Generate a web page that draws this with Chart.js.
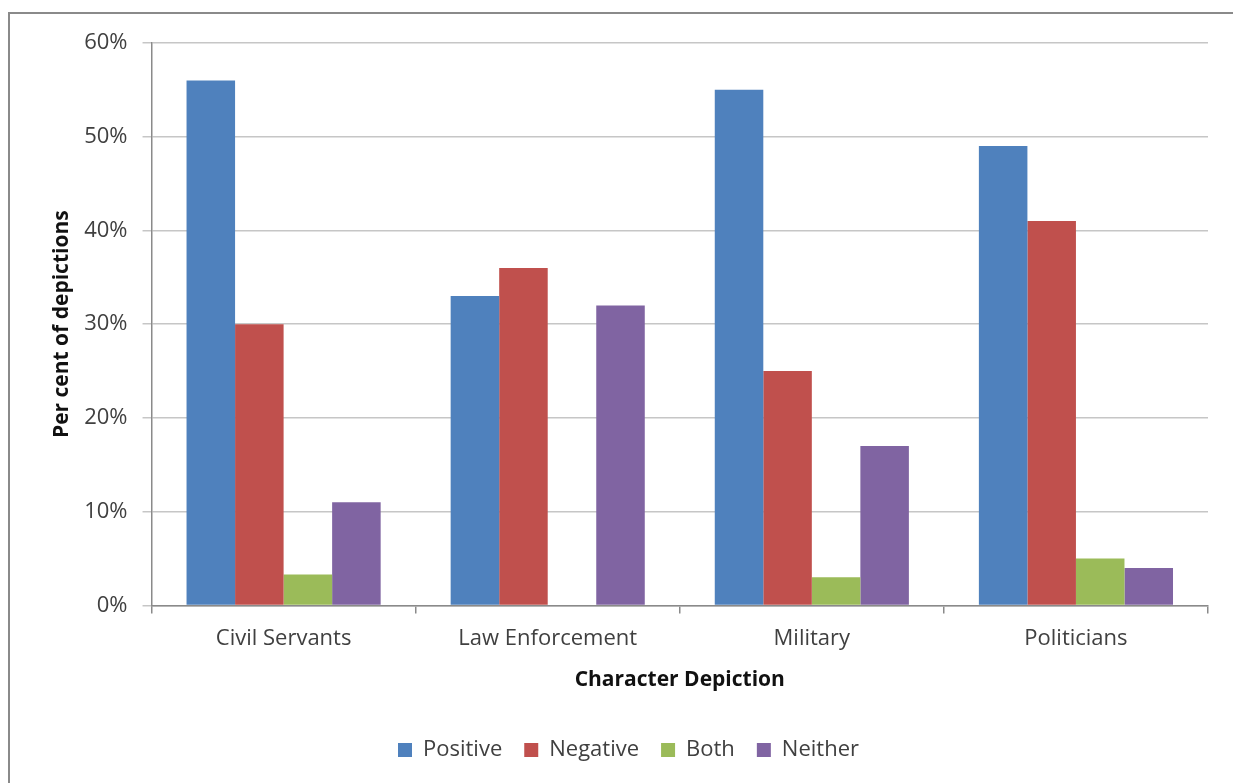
<!DOCTYPE html>
<html>
<head>
<meta charset="utf-8">
<script src="https://cdn.jsdelivr.net/npm/chart.js@4"></script>
<style>
  html, body { margin: 0; padding: 0; background: #fff; overflow: hidden; }
  #wrap { position: relative; width: 1233px; height: 783px; overflow: hidden; }
  #frame { position: absolute; left: 8px; top: 12px; width: 1240px; height: 800px;
           border-left: 2px solid #8a8a8a; border-top: 2px solid #8a8a8a; pointer-events: none; }
</style>
</head>
<body>
<div id="wrap">
  <canvas id="chart" width="1233" height="783"></canvas>
  <div id="frame"></div>
</div>
<script>
// categories and series (per cent)
const categories = ['Civil Servants', 'Law Enforcement', 'Military', 'Politicians'];
const positive = [56, 33, 55, 49];
const negative = [30, 36, 25, 41];
const both = [3.3, 0, 3, 5];
const neither = [11, 32, 17, 4];

const textColor = '#404040';
const fontFamily = '"Open Sans", "Liberation Sans", sans-serif';

new Chart(document.getElementById('chart'), {
    type: 'bar',
    data: {
        labels: categories,
        datasets: [
            { label: 'Positive', data: positive, backgroundColor: '#4f81bd' },
            { label: 'Negative', data: negative, backgroundColor: '#c0504d' },
            { label: 'Both', data: both, backgroundColor: '#9bbb59' },
            { label: 'Neither', data: neither, backgroundColor: '#8064a2' }
        ]
    },
    options: {
        responsive: false,
        animation: false,
        layout: { padding: { top: 43, right: 25, left: 49, bottom: 12 } },
        datasets: { bar: { barPercentage: 1, categoryPercentage: 0.735 } },
        plugins: {
            legend: {
                position: 'bottom',
                labels: {
                    color: textColor,
                    font: { family: fontFamily, size: 22 },
                    boxWidth: 14,
                    boxHeight: 14,
                    padding: 22
                }
            },
            tooltip: { enabled: false }
        },
        scales: {
            x: {
                grid: { drawOnChartArea: false, drawTicks: true, tickLength: 8, color: '#8a8a8a', lineWidth: 1.5 },
                border: { color: '#8a8a8a', width: 1.5 },
                ticks: { color: textColor, font: { family: fontFamily, size: 22 }, padding: 12 },
                title: {
                    display: true,
                    text: 'Character Depiction',
                    color: '#111',
                    font: { family: fontFamily, size: 21, weight: 'bold' },
                    padding: { top: 4, bottom: 24 }
                }
            },
            y: {
                min: 0,
                max: 60,
                ticks: {
                    stepSize: 10,
                    color: textColor,
                    font: { family: fontFamily, size: 22 },
                    padding: 15,
                    callback: v => v + '%'
                },
                grid: { color: '#c6c6c6', lineWidth: 1.5, tickLength: 9 },
                border: { color: '#8a8a8a', width: 1.5 },
                title: {
                    display: true,
                    text: 'Per cent of depictions',
                    color: '#111',
                    font: { family: fontFamily, size: 21, weight: 'bold' },
                    padding: { top: 0, bottom: -5 }
                }
            }
        }
    }
});
</script>
</body>
</html>
